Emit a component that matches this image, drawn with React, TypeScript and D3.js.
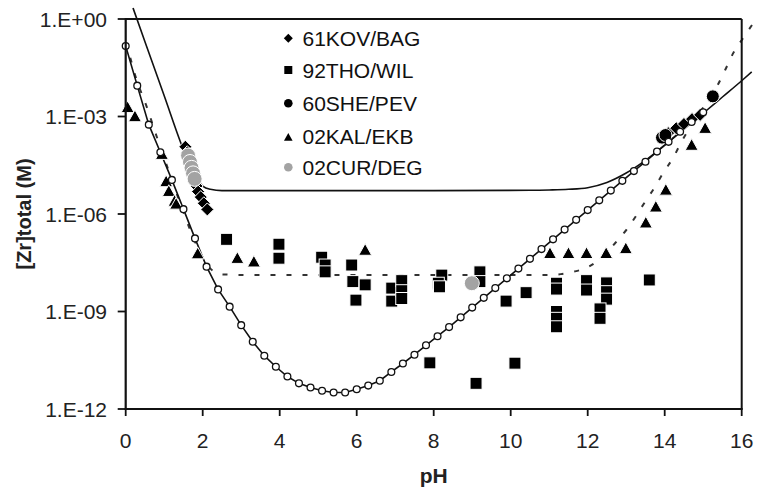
import React from 'react';
import * as d3 from 'd3';

const W = 757;
const H = 488;

const X_TICKS = [0, 2, 4, 6, 8, 10, 12, 14, 16];
const Y_TICK_EXP = [0, -3, -6, -9, -12];
const Y_TICK_LABELS = ['1.E+00', '1.E-03', '1.E-06', '1.E-09', '1.E-12'];

const LEGEND_NAMES = ['61KOV/BAG', '92THO/WIL', '60SHE/PEV', '02KAL/EKB', '02CUR/DEG'];

// [pH, log10 [Zr]total]
const MODEL_CIRCLES: [number, number][] = [
  [0, -0.83], [0.3, -2.05], [0.6, -3.25], [0.9, -4.1], [1.2, -4.95], [1.5, -5.85],
  [1.8, -6.75], [2.1, -7.62], [2.4, -8.32], [2.7, -8.85], [3.0, -9.42], [3.3, -9.93],
  [3.6, -10.36], [3.9, -10.7], [4.2, -11.0], [4.5, -11.21], [4.8, -11.34], [5.1, -11.44],
  [5.4, -11.49], [5.7, -11.49], [6.0, -11.39], [6.3, -11.28], [6.6, -11.13], [6.9, -10.86],
  [7.2, -10.6], [7.5, -10.33], [7.8, -10.04], [8.1, -9.76], [8.4, -9.48], [8.7, -9.18],
  [9.0, -8.88], [9.3, -8.58], [9.6, -8.28], [9.9, -7.98], [10.2, -7.68], [10.5, -7.38],
  [10.8, -7.08], [11.1, -6.78], [11.4, -6.48], [11.7, -6.18], [12.0, -5.88], [12.3, -5.58],
  [12.6, -5.28], [12.9, -4.98], [13.2, -4.68], [13.5, -4.39], [13.8, -4.08], [14.1, -3.78],
  [14.4, -3.47], [14.7, -3.17], [15.0, -2.87],
];

const SOLID_CURVE: [number, number][] = [
  [0.19, 0.34], [0.5, -0.7], [1.0, -2.36], [1.5, -4.02], [1.8, -4.83], [2.0, -5.14],
  [2.2, -5.24], [2.5, -5.28], [5, -5.28], [8, -5.28], [10.5, -5.27], [11.0, -5.26],
  [11.5, -5.24], [12.0, -5.19], [12.5, -5.03], [13.0, -4.74], [13.5, -4.35], [14.0, -3.88],
  [14.5, -3.39], [15.0, -2.9], [15.5, -2.4], [16.0, -1.9], [16.26, -1.63],
];

const DASHED_CURVE: [number, number][] = [
  [0, -0.72], [0.13, -1.24], [0.23, -1.67], [0.56, -2.75], [0.82, -3.67], [1.14, -4.75],
  [1.5, -5.95], [1.8, -6.85], [2.0, -7.35], [2.2, -7.68], [2.5, -7.86], [3.5, -7.88],
  [5, -7.88], [7, -7.88], [9, -7.88], [11, -7.88], [11.3, -7.85], [11.62, -7.78],
  [12.03, -7.62], [12.4, -7.3], [12.71, -6.9], [13.01, -6.48], [13.51, -5.59], [13.75, -5.16],
  [13.98, -4.7], [14.21, -4.29], [14.44, -3.77], [15.0, -2.72], [15.39, -2.0], [15.57, -1.57],
  [15.78, -1.05], [16.04, -0.58], [16.27, -0.18],
];

const KOV_BAG: [number, number][] = [
  [1.55, -3.93], [1.6, -4.1], [1.64, -4.28], [1.68, -4.45], [1.72, -4.62], [1.76, -4.8],
  [1.8, -4.97], [1.84, -5.14], [1.88, -5.31], [1.95, -5.48], [2.03, -5.67], [2.12, -5.86],
  [14.09, -3.51], [14.3, -3.36], [14.5, -3.23], [14.71, -3.08], [14.92, -2.95],
];

const THO_WIL: [number, number][] = [
  [2.62, -6.78], [3.98, -6.93], [3.98, -7.36], [5.09, -7.33], [5.18, -7.57], [5.18, -7.78],
  [5.87, -7.57], [5.9, -8.08], [6.22, -8.18], [5.98, -8.65], [6.91, -8.28], [6.91, -8.68],
  [7.17, -8.05], [7.17, -8.36], [7.17, -8.6], [8.21, -7.88], [8.12, -8.13], [8.15, -8.24],
  [9.2, -7.78], [9.2, -8.08], [9.88, -8.68], [10.4, -8.42], [11.19, -8.13], [11.19, -8.31],
  [11.19, -9.0], [11.19, -9.21], [11.19, -9.47], [11.97, -8.05], [11.97, -8.34],
  [12.49, -8.12], [12.49, -8.39], [12.49, -8.62], [12.32, -8.92], [12.32, -9.21],
  [13.6, -8.03], [7.9, -10.58], [9.1, -11.21], [10.11, -10.59],
];

const SHE_PEV: [number, number][] = [
  [13.93, -3.65], [14.02, -3.57], [15.25, -2.38],
];

const KAL_EKB: [number, number][] = [
  [0.05, -2.72], [0.24, -3.0], [0.94, -4.16], [1.05, -5.0], [1.12, -5.3], [1.27, -5.6],
  [1.31, -5.69], [1.87, -7.22], [2.9, -7.36], [3.33, -7.47], [6.22, -7.11], [11.02, -7.21],
  [11.5, -7.21], [11.97, -7.21], [12.48, -7.21], [12.99, -7.06], [13.51, -6.27],
  [13.77, -5.78], [14.03, -5.26], [14.7, -3.88], [15.05, -3.36],
];

const CUR_DEG: [number, number][] = [
  [1.62, -4.2], [1.67, -4.4], [1.71, -4.58], [1.75, -4.75], [1.79, -4.92], [8.99, -8.13],
];

const FONT = '"Liberation Sans", Arial, Helvetica, sans-serif';
const GREY = '#a3a3a3';

export default function App() {
  const x = d3.scaleLinear().domain([0, 16]).range([125.7, 741.7]);
  const y = d3.scaleLog().domain([1e-12, 1]).range([409, 19]);
  const py = (v: number) => y(Math.pow(10, v));

  const lineGen = (curve: d3.CurveFactory) =>
    d3.line<[number, number]>().x((d) => x(d[0])).y((d) => py(d[1])).curve(curve);

  const solidPath = lineGen(d3.curveMonotoneX)(SOLID_CURVE) || '';
  const dashedPath = lineGen(d3.curveMonotoneX)(DASHED_CURVE) || '';
  const modelPath = lineGen(d3.curveLinear)(MODEL_CIRCLES) || '';

  const [x0, x1] = x.range();
  const [yb, yt] = y.range();

  const diamond = (s: number) => `M0,${-s}L${s},0L0,${s}L${-s},0Z`;
  const triangle = (s: number) => `M0,${-s}L${s},${s * 0.8}L${-s},${s * 0.8}Z`;

  const legendRows = [38.3, 70, 103.3, 136.7, 167.3];

  return (
    <svg width={W} height={H} style={{ position: 'absolute', left: 0, top: 0, background: '#fff' }}
      fontFamily={FONT}>
      <rect x={0} y={0} width={W} height={H} fill="#fff" />

      {/* curves */}
      <path d={solidPath} fill="none" stroke="#111" strokeWidth={1.6} />
      <path d={dashedPath} fill="none" stroke="#333" strokeWidth={2} strokeDasharray="5,11" />
      <path d={modelPath} fill="none" stroke="#111" strokeWidth={1.6} />

      {/* squares */}
      {THO_WIL.map((d, i) => (
        <rect key={'s' + i} x={x(d[0]) - 6} y={py(d[1]) - 6} width={12} height={12}
          fill="#000" stroke="#fff" strokeWidth={1} />
      ))}
      {/* diamonds */}
      {KOV_BAG.map((d, i) => (
        <path key={'d' + i} d={diamond(6.5)} transform={`translate(${x(d[0])},${py(d[1])})`}
          fill="#000" stroke="#fff" strokeWidth={1} />
      ))}
      {/* triangles */}
      {KAL_EKB.map((d, i) => (
        <path key={'t' + i} d={triangle(6.5)} transform={`translate(${x(d[0])},${py(d[1])})`}
          fill="#000" stroke="#fff" strokeWidth={1} />
      ))}
      {/* black circles */}
      {SHE_PEV.map((d, i) => (
        <circle key={'c' + i} cx={x(d[0])} cy={py(d[1])} r={6.5} fill="#000" stroke="#fff" strokeWidth={1} />
      ))}
      {/* grey circles */}
      {CUR_DEG.map((d, i) => (
        <circle key={'g' + i} cx={x(d[0])} cy={py(d[1])} r={7.5} fill={GREY} stroke="#fff" strokeWidth={1} />
      ))}
      {/* model markers */}
      {MODEL_CIRCLES.map((d, i) => (
        <circle key={'m' + i} cx={x(d[0])} cy={py(d[1])} r={3.4} fill="#fff" stroke="#111" strokeWidth={1.3} />
      ))}

      {/* frame */}
      <line x1={x0} x2={x1} y1={yt} y2={yt} stroke="#111" strokeWidth={2} />
      <line x1={x1} x2={x1} y1={yt} y2={yb} stroke="#111" strokeWidth={2} />
      <line x1={x0} x2={x0} y1={yt - 1} y2={yb + 1} stroke="#111" strokeWidth={2.2} />
      <line x1={x0 - 1} x2={x1 + 1} y1={yb} y2={yb} stroke="#111" strokeWidth={2.2} />

      {/* y ticks */}
      {Y_TICK_EXP.map((e, i) => (
        <g key={'yt' + i}>
          <line x1={x0 - 8} x2={x0} y1={py(e)} y2={py(e)} stroke="#111" strokeWidth={1.8} />
          <text x={107} y={py(e)} dy="0.36em" textAnchor="end" fontSize={21} fill="#222">
            {Y_TICK_LABELS[i]}
          </text>
        </g>
      ))}
      {/* x ticks */}
      {X_TICKS.map((t) => (
        <g key={'xt' + t}>
          <line x1={x(t)} x2={x(t)} y1={yb} y2={yb + 7} stroke="#111" strokeWidth={1.8} />
          <text x={x(t)} y={448} textAnchor="middle" fontSize={21} fill="#222">{t}</text>
        </g>
      ))}

      {/* axis titles */}
      <text x={(x0 + x1) / 2} y={483} textAnchor="middle" fontSize={21} fontWeight="bold" fill="#222">pH</text>
      <text transform={`translate(31,${(yt + yb) / 2}) rotate(-90)`} textAnchor="middle" fontSize={20}
        fontWeight="bold" fill="#222">[Zr]total (M)</text>

      {/* legend */}
      <g>
        <path d={diamond(4.5)} transform={`translate(288.3,${legendRows[0]})`} fill="#000" />
        <rect x={288.3 - 4} y={legendRows[1] - 4} width={8} height={8} fill="#000" />
        <circle cx={288.3} cy={legendRows[2]} r={4.3} fill="#000" />
        <path d={triangle(4.3)} transform={`translate(288.3,${legendRows[3] + 0.5})`} fill="#000" />
        <circle cx={288.3} cy={legendRows[4]} r={4.3} fill={GREY} />
        {LEGEND_NAMES.map((n, i) => (
          <text key={n} x={302.5} y={legendRows[i]} dy="0.36em" fontSize={21} fill="#111">{n}</text>
        ))}
      </g>
    </svg>
  );
}
